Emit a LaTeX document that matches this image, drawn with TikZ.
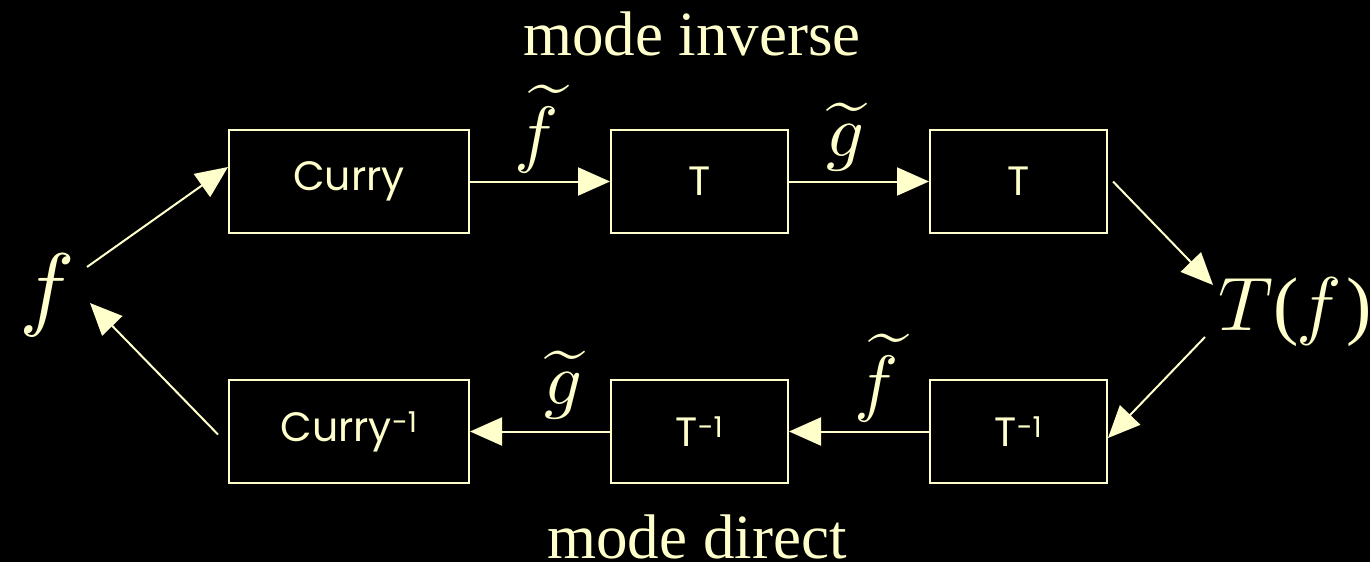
\documentclass[tikz,border=0pt]{standalone}
\usepackage{fontspec}
\setmainfont{Liberation Serif}
\newfontfamily\boxfont{Poppins}
\usetikzlibrary{arrows.meta}
\definecolor{cream}{HTML}{FFFFCC}
\begin{document}
\begin{tikzpicture}[x=1pt,y=-1pt,
  every node/.style={text=cream},
  box/.style={draw=cream, line width=2pt, minimum width=240pt, minimum height=103pt,
    inner sep=0pt, font=\boxfont\fontsize{41}{41}\selectfont},
  sbox/.style={box, minimum width=177pt},
  arr/.style={draw=cream, fill=cream, line width=2pt, -{Triangle[length=32pt,width=28pt]}},
  lab/.style={inner sep=0pt, font=\fontsize{10}{10}\selectfont, scale=7.4},
  big/.style={inner sep=0pt, font=\fontsize{10}{10}\selectfont, scale=9.3},
  title/.style={inner sep=0pt, font=\fontsize{63}{63}\selectfont}]
\fill[black] (0,0) rectangle (1370,562);
\useasboundingbox (0,0) rectangle (1370,562);

\node[box]  (curry)  at (349,181.5)    {Curry};
\node[sbox] (t1)     at (699.5,181.5)  {T};
\node[sbox] (t2)     at (1018.5,181.5) {T};
\node[box]  (curryi) at (349,431.5)    {Curry\textsuperscript{-1}};
\node[sbox] (ti1)    at (699.5,431.5)  {T\textsuperscript{-1}};
\node[sbox] (ti2)    at (1018.5,431.5) {T\textsuperscript{-1}};

\node[big] (f)  at (47,295)   {$f$};
\node[big, scale=7.6/9.3] (tf) at (1295,312) {$T$(\kern-0.03em$f$\kern0.06em)};

\node[title, anchor=base] (mi) at (692,55)  {mode inverse};
\node[title, anchor=base] (md) at (697,558) {mode direct};

\node[lab] (lf1) at (537,129) {$\widetilde{f}$};
\node[lab] (lg1) at (845,137) {$\widetilde{g}$};
\node[lab] (lg2) at (563,385) {$\widetilde{g}$};
\node[lab] (lf2) at (877,378) {$\widetilde{f}$};

\coordinate (fout) at (87,267);
\coordinate (fin)  at (90,303);
\coordinate (tfin) at (1213,285);
\coordinate (tfout) at (1205,337);

\draw[arr] (fout) -- ([yshift=14.5pt]curry.west);
\draw[arr] (curry.east) -- (t1.west);
\draw[arr] (t1.east) -- (t2.west);
\draw[arr] ([xshift=5pt]t2.east) -- (tfin);
\draw[arr] (tfout) -- ([yshift=-6.5pt]ti2.east);
\draw[arr] (ti2.west) -- (ti1.east);
\draw[arr] (ti1.west) -- (curryi.east);
\draw[arr] ([xshift=-10pt,yshift=-3pt]curryi.west) -- (fin);
\end{tikzpicture}
\end{document}
